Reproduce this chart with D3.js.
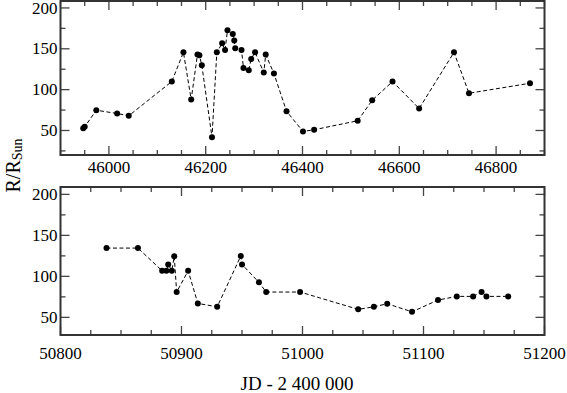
<!DOCTYPE html>
<html><head><meta charset="utf-8">
<script src="https://cdn.jsdelivr.net/npm/d3@7"></script>
<style>
html,body{margin:0;padding:0;background:#fff;}
svg{display:block;}
</style></head>
<body>
<svg id="c" width="567" height="393" font-family="'Liberation Serif', 'Times New Roman', Times, serif"></svg>
<script>
// Top panel (JD - 2 400 000, R/R_Sun)
const jdTop = [45947,45950,45974,46017,46041,46130,46154,46170,46183,46187,46192,46213,46223,46234,46240,46245,46256,46259,46261,46274,46278,46289,46294,46302,46320,46324,46341,46367,46401,46424,46514,46544,46586,46641,46713,46744,46870];
const rTop  = [52.8,54.5,74.8,70.8,68,110,145.7,87.9,143,142,129.8,41.8,145.7,156.7,148.6,172.6,168,160,150.6,148.6,126.6,123.7,137.6,145.7,120.9,142.9,119.7,73.6,48.8,50.9,61.9,87,109.9,76.9,145.7,95.6,107.8];
// Bottom panel
const jdBottom = [50838,50864,50884,50887.5,50889,50892,50894,50896,50905.5,50913.5,50929.5,50949,50950,50964,50970,50998,51046,51059,51070,51090.5,51112,51127.5,51141,51148,51152,51170];
const rBottom  = [134.5,134.5,106.8,106.8,114.6,106.8,124.4,80.9,106.8,67,62.9,124.8,114.6,92.7,80.9,80.9,59.8,62.9,66.6,56.8,71.1,75.6,75.6,80.9,75.6,75.6];
// Tick labels
const xTicksTop = [46000,46200,46400,46600,46800];
const xTicksBottom = [50800,50900,51000,51100,51200];
const yTicks = [50,100,150,200];
const yLabel = "R/R";
const yLabelSub = "Sun";
const xLabel = "JD - 2 400 000";

const FONT = "'Liberation Serif', 'Times New Roman', Times, serif";
const svg = d3.select("#c");
const L = 60.5, R = 544.5;

function panel(cfg){
  const x = d3.scaleLinear().domain(cfg.xDomain).range([L,R]);
  const y = d3.scaleLinear().domain(cfg.yDomain).range([cfg.bottom, cfg.top]);
  const g = svg.append("g");
  const tickColor = "#444";
  const xMinor = d3.range(cfg.xDomain[0], cfg.xDomain[1]+1e-6, cfg.xMinorStep);
  xMinor.forEach(v=>{
    const major = cfg.xTicks.includes(v);
    const len = major ? 9 : 5;
    g.append("line").attr("x1",x(v)).attr("x2",x(v)).attr("y1",cfg.bottom).attr("y2",cfg.bottom-len)
      .attr("stroke",tickColor).attr("stroke-width",1.3);
    g.append("line").attr("x1",x(v)).attr("x2",x(v)).attr("y1",cfg.top).attr("y2",cfg.top+len)
      .attr("stroke",tickColor).attr("stroke-width",1.3);
  });
  const yMinor = d3.range(25, 226, 25).filter(v=>v>cfg.yDomain[0] && v<cfg.yDomain[1]);
  yMinor.forEach(v=>{
    const major = yTicks.includes(v);
    const len = major ? 9 : 5;
    g.append("line").attr("x1",L).attr("x2",L+len).attr("y1",y(v)).attr("y2",y(v))
      .attr("stroke",tickColor).attr("stroke-width",1.3);
    g.append("line").attr("x1",R).attr("x2",R-len).attr("y1",y(v)).attr("y2",y(v))
      .attr("stroke",tickColor).attr("stroke-width",1.3);
  });
  g.append("rect").attr("x",L).attr("y",cfg.top).attr("width",R-L).attr("height",cfg.bottom-cfg.top)
    .attr("fill","none").attr("stroke","#333").attr("stroke-width",2);
  cfg.xTicks.forEach(v=>{
    g.append("text").attr("x",x(v)).attr("y",cfg.xLabelY).attr("text-anchor","middle")
      .attr("font-family",FONT).attr("font-size",17).attr("fill","#000").text(v);
  });
  yTicks.forEach(v=>{
    g.append("text").attr("x",L-3).attr("y",y(v)).attr("dy","0.33em").attr("text-anchor","end")
      .attr("font-family",FONT).attr("font-size",17).attr("fill","#000").text(v);
  });
  const pts = cfg.xs.map((d,i)=>[d,cfg.ys[i]]);
  g.append("path").datum(pts)
    .attr("d", d3.line().x(d=>x(d[0])).y(d=>y(d[1])))
    .attr("fill","none").attr("stroke","#000").attr("stroke-width",1).attr("stroke-dasharray","4,2.5");
  g.selectAll("circle.p").data(pts).enter().append("circle")
    .attr("cx",d=>x(d[0])).attr("cy",d=>y(d[1])).attr("r",3).attr("fill","#000");
}

panel({xDomain:[45900,46900], yDomain:[20,208.5], top:1, bottom:155, xMinorStep:50,
       xTicks:xTicksTop, xLabelY:172.5, xs:jdTop, ys:rTop});
panel({xDomain:[50800,51200], yDomain:[28.5,209], top:187, bottom:335, xMinorStep:25,
       xTicks:xTicksBottom, xLabelY:358.5, xs:jdBottom, ys:rBottom});

svg.append("text").attr("x",297).attr("y",390).attr("text-anchor","middle")
  .attr("font-family",FONT).attr("font-size",19).text(xLabel);
const yt = svg.append("text").attr("transform","translate(20,165.5) rotate(-90)")
  .attr("text-anchor","middle").attr("font-family",FONT).attr("font-size",20);
yt.append("tspan").text(yLabel);
yt.append("tspan").attr("font-size",14).attr("dy",2).text(yLabelSub);
</script>
</body></html>
